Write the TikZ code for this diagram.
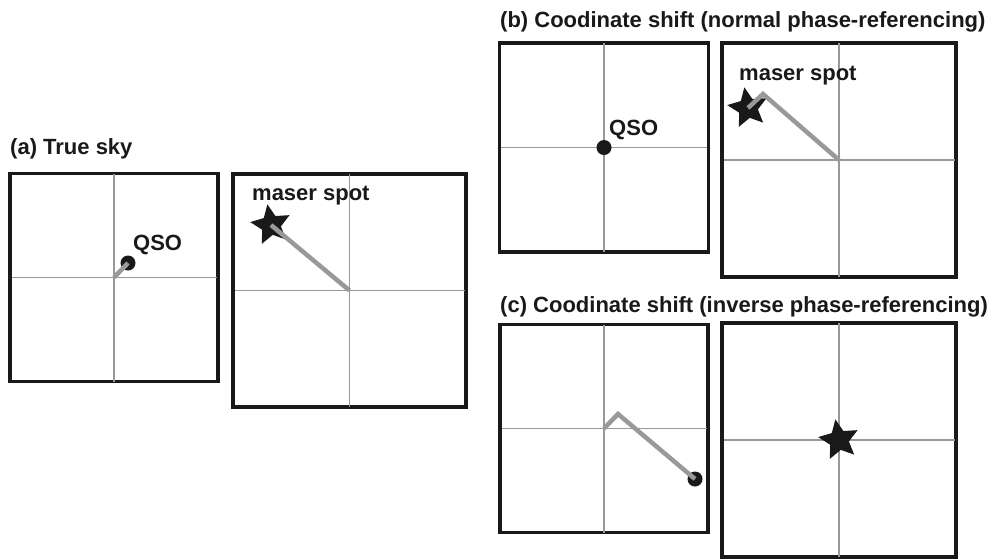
\documentclass[tikz,border=0pt]{standalone}
\usepackage{fontspec}
\setmainfont{Liberation Sans}
\usetikzlibrary{shapes.geometric}
\begin{document}
\begin{tikzpicture}
      [x=1pt,y=-1pt,
      sky box/.style={draw=black!90,line width=3.5pt,outer sep=0pt,inner sep=0pt,
      minimum width=#1,minimum height=#1},
      axis/.style={draw=black!40,line width=1.5pt,shorten <=1.5pt,shorten >=1.5pt},
      track/.style={draw=black!40,line width=4.5pt},
      qso/.style={circle,fill=black!90,inner sep=0pt,minimum size=15pt},
      spot/.style={star,star points=5,star point ratio=2.1,fill=black!90,
      inner sep=0pt,minimum size=42pt,rotate=10},
      caption/.style={font=\fontsize{22}{26}\selectfont\bfseries,anchor=base west,
      inner sep=0pt,text=black!90}]
      \useasboundingbox (0,0) rectangle (992,558);
      \node[caption] (ta) at (10,154) {(a) True sky};
      \node[caption] (tb) at (500,27) {(b) Coodinate shift (normal phase-referencing)};
      \node[caption] (tc) at (500,312) {(c) Coodinate shift (inverse phase-referencing)};
      \node[sky box=208pt] (a1) at (114,277.5) {};
      \node[sky box=233pt] (a2) at (349.5,290.5) {};
      \node[sky box=209pt] (b1) at (604,147.5) {};
      \node[sky box=234pt] (b2) at (839,160) {};
      \node[sky box=208pt] (c1) at (604,428.5) {};
      \node[sky box=234pt] (c2) at (839,440) {};
      \foreach \b in {a1,a2,b1,b2,c1,c2}
        \path[axis] (\b.north) -- (\b.south) (\b.west) -- (\b.east);
      \node[qso] (qa) at (128,263) {};
      \node[caption] (la) at (133,250) {QSO};
      \node[spot] (sa) at (271,225) {};
      \node[caption] (ma) at (252,200) {maser spot};
      \path[track] (a1.center) -- (qa.center);
      \path[track] (sa.center) -- (a2.center);
      \node[qso] (qb) at (b1.center) {};
      \node[caption] (lb) at (609,135) {QSO};
      \node[spot] (sb) at (748,108) {};
      \node[caption] (mb) at (739,80) {maser spot};
      \coordinate (kb) at (763,94);
      \path[track] (sb.center) -- (kb) -- (b2.center);
      \node[qso] (qc) at (695,479) {};
      \coordinate (kc) at (618,414);
      \path[track] (c1.center) -- (kc) -- (qc.center);
      \node[spot] (sc) at (c2.center) {};
    \end{tikzpicture}
\end{document}
